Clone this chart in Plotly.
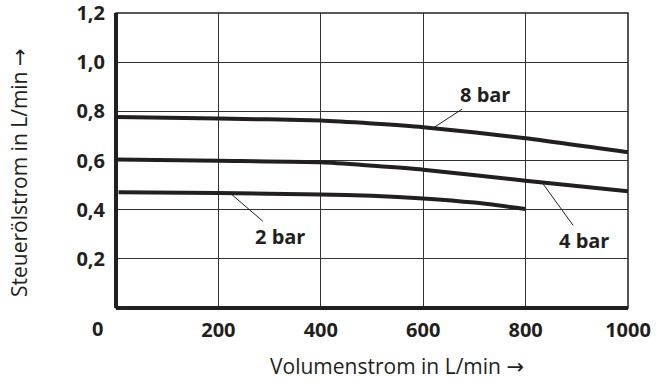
import numpy as np
import plotly.graph_objects as go

# --- data ---
x_8bar = [0, 200, 400, 500, 600, 800, 1000]
y_8bar = [0.777, 0.771, 0.763, 0.751, 0.736, 0.691, 0.634]

x_4bar = [0, 200, 400, 500, 600, 800, 1000]
y_4bar = [0.604, 0.599, 0.593, 0.579, 0.563, 0.518, 0.475]

x_2bar = [5, 200, 400, 500, 600, 700, 800]
y_2bar = [0.471, 0.468, 0.462, 0.457, 0.446, 0.429, 0.403]

x_ticks = [200, 400, 600, 800, 1000]
y_ticks = [0.2, 0.4, 0.6, 0.8, 1.0, 1.2]
y_ticklabels = ["0,2", "0,4", "0,6", "0,8", "1,0", "1,2"]

series = [
    ("8 bar", x_8bar, y_8bar),
    ("4 bar", x_4bar, y_4bar),
    ("2 bar", x_2bar, y_2bar),
]

# label placement: (x on curve for leader, text offset px)
labels = {
    "8 bar": (619, 52, -34),
    "4 bar": (832, 42, 58),
    "2 bar": (223, 50, 43),
}

FONT = "Open Sans"
INK = "#231f20"
ARROW = "<span style='font-family:DejaVu Sans'>→</span>"

L, R, T, B = 116, 42, 13, 75
PW, PH = 670 - L - R, 383 - T - B


def px(xp):
    return (xp - L) / PW


def py(yp):
    return (383 - B - yp) / PH


fig = go.Figure()
for name, xs, ys in series:
    fig.add_trace(go.Scatter(
        x=xs, y=ys, mode="lines", name=name,
        line=dict(color=INK, width=4, shape="spline", smoothing=0.6),
        showlegend=False, hoverinfo="skip",
    ))
    lx, ax, ay = labels[name]
    ly = float(np.interp(lx, xs, ys))
    fig.add_annotation(
        x=lx, y=ly, xref="x", yref="y", text=f"<b>{name}</b>",
        showarrow=True, arrowhead=0, arrowwidth=1, arrowcolor=INK,
        ax=ax, ay=ay, standoff=0,
        font=dict(family=FONT, size=20, color=INK),
    )

fig.update_xaxes(
    range=[0, 1000], tickvals=x_ticks, ticktext=[str(v) for v in x_ticks],
    showgrid=True, gridcolor="#333333", gridwidth=1, automargin=False,
    zeroline=False, showline=False, ticks="", ticklabelstandoff=8,
    ticklabeloverflow="allow",
    tickfont=dict(family=FONT, size=20, color=INK, weight="bold"),
)
fig.update_yaxes(
    range=[0, 1.2005], tickvals=y_ticks, ticktext=y_ticklabels,
    showgrid=True, gridcolor="#333333", gridwidth=1, automargin=False,
    zeroline=False, showline=False, ticks="", ticklabelstandoff=10,
    ticklabeloverflow="allow",
    tickfont=dict(family=FONT, size=20, color=INK, weight="bold"),
)

# frame: thin top/right, thick left/bottom
fig.add_shape(type="rect", xref="paper", yref="paper", x0=0, x1=1, y0=0, y1=1,
              line=dict(color=INK, width=1.5), layer="above")
fig.add_shape(type="line", xref="paper", yref="paper", x0=0, x1=0, y0=0, y1=1,
              line=dict(color=INK, width=4), layer="above")
fig.add_shape(type="line", xref="paper", yref="paper", x0=0, x1=1, y0=0, y1=0,
              line=dict(color=INK, width=4), layer="above")

# "0" origin label
fig.add_annotation(x=px(97), y=py(328), xref="paper", yref="paper", text="0",
                   showarrow=False, xanchor="center", yanchor="middle",
                   font=dict(family=FONT, size=20, color=INK, weight="bold"))

# axis titles
fig.add_annotation(x=px(397), y=py(366), xref="paper", yref="paper",
                   text="Volumenstrom in L/min " + ARROW,
                   showarrow=False, xanchor="center", yanchor="middle",
                   font=dict(family=FONT, size=21, color=INK))
fig.add_annotation(x=px(19), y=py(173), xref="paper", yref="paper",
                   text="Steuerölstrom in L/min " + ARROW, textangle=-90, showarrow=False,
                   xanchor="center", yanchor="middle",
                   font=dict(family=FONT, size=21, color=INK))

fig.update_layout(
    width=670, height=383,
    margin=dict(l=L, r=R, t=T, b=B, autoexpand=False),
    paper_bgcolor="white", plot_bgcolor="white",
)

fig.write_html("out.html", config={"displayModeBar": False},
               post_script="document.body.style.margin='0px';")
